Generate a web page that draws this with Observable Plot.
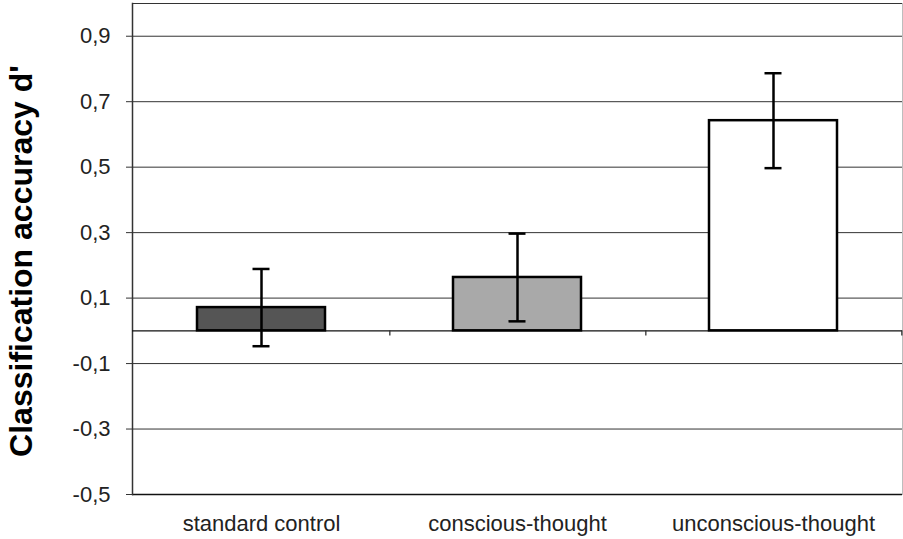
<!DOCTYPE html>
<html>
<head>
<meta charset="utf-8">
<script src="https://cdn.jsdelivr.net/npm/d3@7"></script>
<script src="https://cdn.jsdelivr.net/npm/@observablehq/plot@0.6"></script>
<style>
  html, body { margin: 0; padding: 0; background: #fff; }
  #chart svg { display: block; }
</style>
</head>
<body>
<div id="chart"></div>
<script>
const categories = ["standard control", "conscious-thought", "unconscious-thought"];
const means = [0.071, 0.163, 0.642];
const errors = [0.118, 0.134, 0.145];
const fills = ["#555555", "#a9a9a9", "#ffffff"];
const yTicks = [-0.5, -0.3, -0.1, 0.1, 0.3, 0.5, 0.7, 0.9];
const yDomain = [-0.5, 1.0];
const yLabel = "Classification accuracy d'";

const data = categories.map((c, i) => ({
  cat: c, mean: means[i], lo: means[i] - errors[i], hi: means[i] + errors[i], fill: fills[i]
}));

const W = 903, H = 539, mL = 132, mR = 1, mT = 3, mB = 45;
const step = (W - mL - mR) / categories.length;
const font = "'Liberation Sans', Arial, sans-serif";

const chart = Plot.plot({
  width: W,
  height: H,
  marginLeft: mL,
  marginRight: mR,
  marginTop: mT,
  marginBottom: mB,
  style: { fontFamily: font, background: "#fff", color: "#222" },
  x: { domain: categories, paddingInner: 0.5, paddingOuter: 0.25 },
  y: { domain: yDomain },
  color: { type: "identity" },
  marks: [
    Plot.frame({ stroke: "#bdbdbd", strokeWidth: 1 }),
    Plot.ruleY(yTicks, { stroke: "#333", strokeWidth: 1 }),
    Plot.ruleY([yDomain[1]], { stroke: "#333", strokeWidth: 1.2 }),
    Plot.ruleY([yDomain[0]], { stroke: "#111", strokeWidth: 1.5 }),
    Plot.frame({ anchor: "left", stroke: "#333", strokeWidth: 1.5 }),
    Plot.ruleY([0], { stroke: "#111", strokeWidth: 1.3 }),
    Plot.ruleX(categories, { x: d => d, y1: 0, y2: -0.016, dx: step / 2, stroke: "#333", strokeWidth: 1.3 }),
    Plot.barY(data, { x: "cat", y: "mean", fill: "fill", stroke: "#000", strokeWidth: 2.5 }),
    Plot.ruleX(data, { x: "cat", y1: "lo", y2: "hi", stroke: "#000", strokeWidth: 2.5 }),
    Plot.tickY(data, { x: "cat", y: "hi", stroke: "#000", strokeWidth: 2.5, insetLeft: 55.5, insetRight: 55.5 }),
    Plot.tickY(data, { x: "cat", y: "lo", stroke: "#000", strokeWidth: 2.5, insetLeft: 55.5, insetRight: 55.5 }),
    Plot.axisY(yTicks, {
      tickSize: 6, tickPadding: 16, fontSize: 22, stroke: "#333",
      tickFormat: d => d.toFixed(1).replace(".", ","), label: null
    }),
    Plot.axisX({ tickSize: 0, tickPadding: 21, fontSize: 22, label: null }),
    Plot.text([yLabel], {
      text: d => d, frameAnchor: "left", rotate: -90, dx: -111, dy: 12,
      fontSize: 32, fontWeight: "bold", fill: "#000", textAnchor: "middle", lineAnchor: "middle"
    })
  ]
});

document.getElementById("chart").append(chart);
</script>
</body>
</html>
